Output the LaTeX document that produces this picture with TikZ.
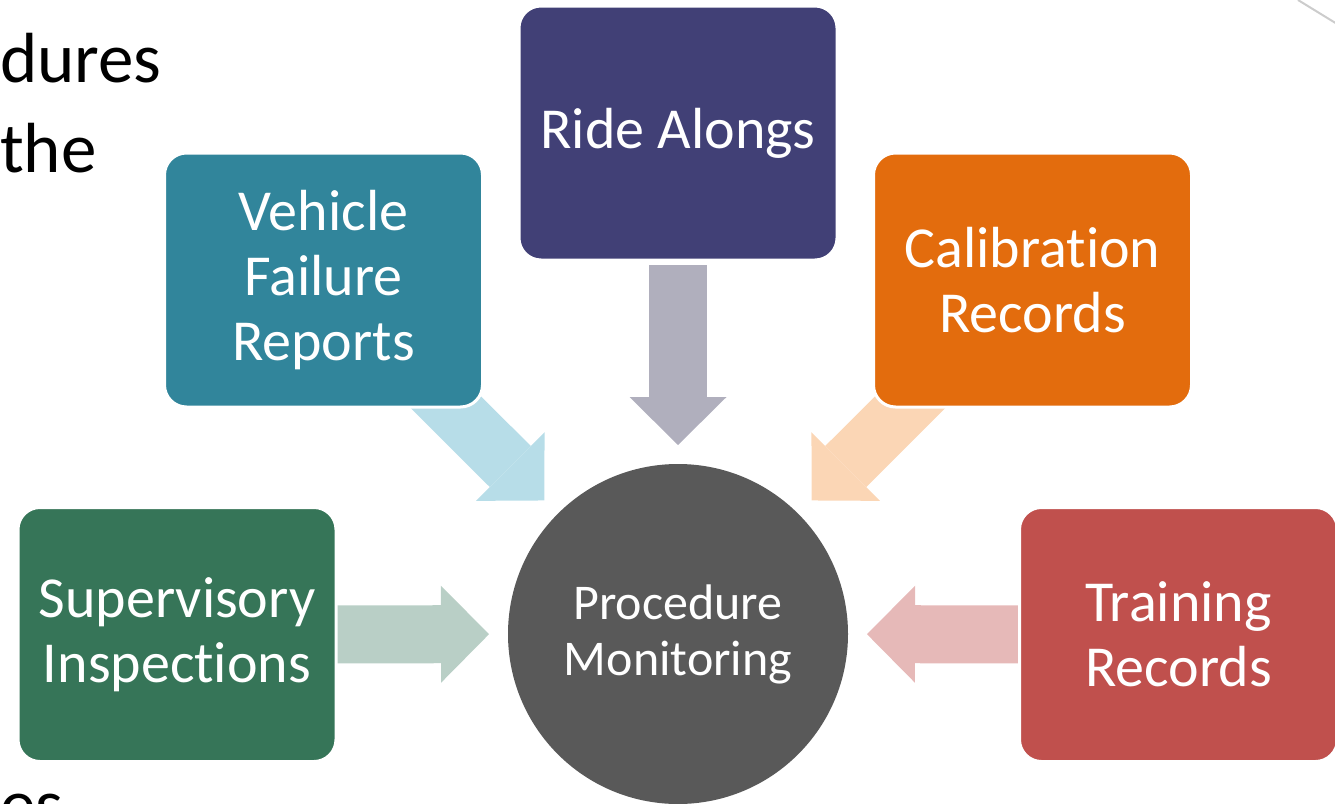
\documentclass[tikz,border=0pt]{standalone}
\usepackage{fontspec}
\setmainfont{Carlito}[Ligatures=NoCommon]
\usetikzlibrary{arrows.meta,backgrounds}
\definecolor{vfcol}{RGB}{49,133,155}
\definecolor{ridecol}{RGB}{65,64,118}
\definecolor{calcol}{RGB}{227,108,13}
\definecolor{supcol}{RGB}{54,117,88}
\definecolor{trcol}{RGB}{192,80,77}
\definecolor{hubcol}{RGB}{89,89,89}
\definecolor{vfarrow}{RGB}{183,221,232}
\definecolor{ridearrow}{RGB}{176,175,189}
\definecolor{calarrow}{RGB}{251,214,181}
\definecolor{suparrow}{RGB}{185,207,198}
\definecolor{trarrow}{RGB}{230,185,184}
\tikzset{
  srcbox/.style={draw=white, line width=3pt, rounded corners=22pt, minimum width=318pt, minimum height=254pt, inner sep=0pt, text=white, align=center, font=\fontsize{58}{65}\selectfont},
  feed/.style={line width=58pt, shorten <=132pt, shorten >=19pt, -{Triangle[length=48pt,width=97pt,line width=0pt]}},
  slidetext/.style={anchor=base west, inner sep=0pt, font=\fontsize{71}{88}\selectfont}
}
\begin{document}
\begin{tikzpicture}[x=1pt,y=-1pt]
\useasboundingbox (0,0) rectangle (1335,803);
\clip (0,0) rectangle (1335,803);
% text of the slide behind the diagram
\node[slidetext] (lineA) at (0,82) {dures};
\node[slidetext] (lineB) at (0,172) {the};
\node[slidetext] (lineC) at (0,828) {es};
\draw[gray!40, line width=2pt] (1298,0) -- (1342,27);
% hub and the five sources
\node[circle, fill=hubcol, minimum size=340pt, inner sep=0pt, outer sep=0pt, text=white, align=center, font=\fontsize{50}{56}\selectfont] (hub) at (678,634) {Procedure\\Monitoring};
\node[srcbox, fill=ridecol] (ride) at (678,133) {Ride Alongs};
\node[srcbox, fill=vfcol] (vf) at (323.5,280) {Vehicle\\Failure\\Reports};
\node[srcbox, fill=calcol] (cal) at (1032.5,280) {Calibration\\Records};
\node[srcbox, fill=supcol] (sup) at (177,634.5) {Supervisory\\Inspections};
\node[srcbox, fill=trcol] (tr) at (1178.5,634.5) {Training\\Records};
% block arrows into the hub
\begin{scope}[on background layer]
\draw[feed, ridearrow] (ride.center) -- (hub);
\draw[feed, vfarrow] (vf.center) -- (hub);
\draw[feed, calarrow] (cal.center) -- (hub);
\draw[feed, suparrow] (sup.center) -- (hub);
\draw[feed, trarrow] (tr.center) -- (hub);
\end{scope}
\end{tikzpicture}
\end{document}
